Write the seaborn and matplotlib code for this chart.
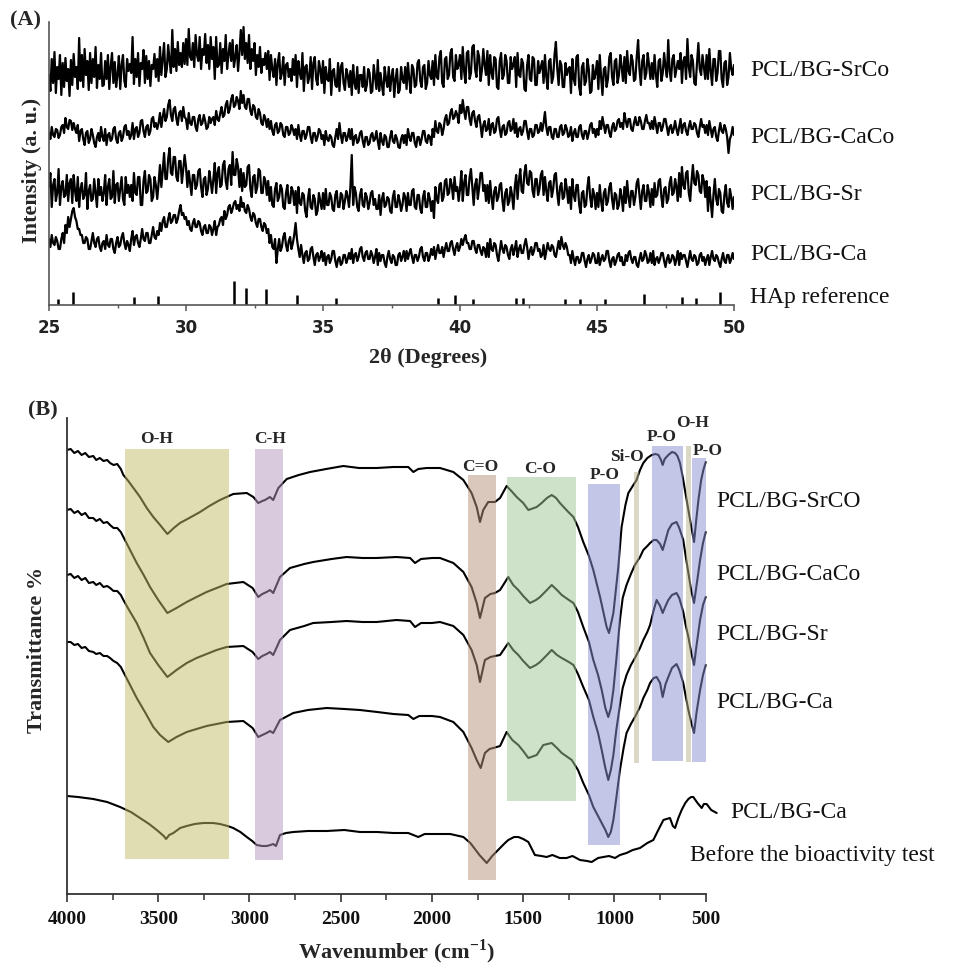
import numpy as np
import matplotlib
matplotlib.use("Agg")
import matplotlib.pyplot as plt
from matplotlib.patches import Rectangle
import seaborn as sns

# ---------------- Panel A : XRD (intensity, a.u.), 0.05 deg steps ----------------
xrd_2theta = np.linspace(25, 50, 501)

xrd_srco = [
    230,214,246,222,253,212,238,226,250,210,242,218,247,224,236,209,245,220,251,228,
    238,216,267,224,250,218,256,230,244,215,252,222,246,228,258,217,240,226,252,219,
    220,244,226,250,216,238,252,222,243,218,230,249,216,240,250,224,218,246,234,241,
    232,268,221,246,228,252,219,242,236,255,222,249,226,244,219,240,236,251,228,246,
    224,258,230,246,262,228,236,260,244,232,275,238,256,234,263,240,252,238,262,241,
    266,240,276,248,245,262,238,270,250,244,268,236,256,250,271,242,260,236,268,246,
    258,226,268,238,240,262,232,256,244,270,236,250,262,244,265,238,248,260,234,252,
    275,250,278,246,262,242,270,236,256,244,262,230,250,238,258,232,246,240,252,236,
    254,225,250,236,228,246,220,242,252,226,232,248,220,240,242,228,236,224,246,230,
    250,218,244,232,226,252,214,238,240,222,228,248,216,242,248,226,220,244,236,222,
    244,212,238,226,224,246,210,234,236,220,218,242,214,238,242,222,215,236,230,218,
    234,210,240,222,216,238,212,230,230,218,238,214,220,236,232,212,214,240,228,216,
    245,214,232,220,210,238,226,218,238,214,228,236,208,226,236,212,215,238,226,222,
    238,216,242,226,212,240,236,218,220,242,245,224,218,238,240,216,222,244,230,226,
    244,220,250,228,226,248,254,222,218,246,248,226,230,252,256,228,224,250,236,240,
    250,226,258,234,222,252,254,226,232,258,260,236,228,254,248,224,235,256,240,230,
    254,220,250,232,226,248,246,218,216,244,252,226,230,250,244,222,222,248,236,240,
    248,218,252,230,228,246,242,216,214,240,250,226,224,248,246,220,220,244,232,238,
    244,222,250,228,216,244,246,222,228,250,263,236,220,244,240,218,218,242,230,236,
    238,212,246,226,220,248,250,218,210,238,242,220,224,246,236,212,214,240,226,232,
    244,216,250,228,210,236,238,218,226,248,252,228,220,244,246,222,230,250,238,224,
    248,222,254,234,230,250,244,224,226,248,265,236,220,244,250,226,232,252,240,226,
    242,226,250,230,218,244,246,224,232,252,238,228,265,234,224,246,250,228,236,244,
    236,252,222,244,248,226,266,238,228,250,244,222,220,242,262,236,230,250,238,226,
    250,226,256,234,220,246,246,224,232,254,254,226,218,242,244,220,228,252,236,230,
    240]

xrd_caco = [
    172,166,178,170,168,176,175,167,170,178,180,172,187,178,176,185,184,175,182,176,
    172,180,164,174,176,166,160,172,174,162,166,176,170,162,158,168,172,164,178,168,
    164,176,160,170,172,164,166,176,178,166,162,172,174,164,168,178,180,170,174,166,
    170,182,166,176,178,168,172,184,185,174,168,178,180,170,174,186,188,178,182,176,
    182,192,178,188,196,184,188,200,205,190,184,196,198,186,180,192,194,184,198,188,
    186,176,192,182,180,188,188,178,174,186,190,180,182,190,184,176,178,188,182,186,
    188,180,194,186,184,192,198,188,190,200,204,192,196,206,210,198,200,208,204,196,
    214,202,210,198,196,206,206,194,190,200,198,188,186,196,192,182,180,190,186,178,
    186,176,184,174,170,180,182,172,174,182,180,170,168,178,178,170,172,180,176,170,
    176,166,180,170,164,174,174,166,170,178,178,168,162,172,172,164,168,176,174,166,
    170,160,174,166,164,170,168,160,158,168,176,166,182,170,162,172,172,164,168,176,
    166,176,160,168,170,162,164,172,174,164,158,168,168,160,162,170,172,164,166,174,
    164,156,172,164,160,170,168,158,158,168,174,164,162,170,166,158,157,166,170,162,
    170,160,176,168,164,172,172,162,158,168,168,160,166,174,174,164,162,170,168,160,
    176,168,184,174,172,182,180,170,176,186,190,180,182,192,196,186,188,194,190,182,
    200,192,205,194,186,198,198,186,180,192,194,184,178,188,190,180,168,180,184,174,
    176,186,170,180,182,172,174,186,188,176,168,178,180,170,172,182,184,174,176,186,
    172,182,168,176,178,170,174,184,184,174,166,176,176,168,170,180,180,172,174,182,
    174,182,193,178,170,178,178,168,166,176,176,168,168,178,180,170,172,180,176,168,
    170,178,164,172,176,168,168,178,180,170,166,174,174,166,172,180,182,172,176,168,
    176,170,184,176,188,180,172,180,180,172,168,178,182,174,176,184,186,178,182,176,
    192,184,178,186,186,176,174,182,188,180,180,188,184,176,176,184,190,182,182,176,
    184,176,188,180,172,182,182,174,178,186,186,178,170,178,180,172,176,184,176,170,
    178,186,172,180,182,174,170,178,184,176,176,182,180,172,168,178,186,178,180,172,
    180,170,184,176,168,176,178,168,164,174,182,174,172,180,176,168,152,166,170,178,
    170]

xrd_sr = [
    118,132,98,120,126,104,112,136,100,118,124,108,110,130,104,122,126,102,130,114,
    104,128,98,116,122,106,110,132,96,114,120,104,106,126,112,98,126,110,118,104,
    112,130,100,118,126,106,108,134,102,120,122,104,116,128,106,100,128,112,120,108,
    120,104,132,112,110,128,128,100,100,124,134,112,114,130,126,104,108,128,120,106,
    122,140,118,134,152,126,126,146,157,132,130,148,148,128,124,144,144,122,136,150,
    138,118,134,122,110,130,130,116,120,134,136,118,108,126,128,110,116,134,124,112,
    126,142,112,132,138,118,120,140,144,124,116,136,140,120,153,130,130,146,138,118,
    136,114,132,118,120,138,140,116,108,128,130,112,118,136,134,112,112,128,124,110,
    124,104,118,100,98,116,122,104,108,120,116,98,96,112,120,102,102,118,114,100,
    114,92,118,102,100,112,110,94,88,106,116,98,96,110,106,90,94,112,104,96,
    112,96,116,100,100,112,108,96,94,110,114,98,98,112,110,96,104,114,108,98,
    118,150,100,118,112,98,94,110,116,100,98,112,108,96,102,112,114,100,106,96,
    96,110,90,106,112,98,100,108,106,94,92,108,114,98,98,110,104,94,100,112,
    108,94,112,100,100,114,116,98,96,110,110,96,92,108,114,98,98,112,106,94,
    104,87,118,106,102,120,122,104,108,124,126,110,112,126,120,106,128,114,118,104,
    116,134,104,122,130,110,110,128,136,118,100,120,126,106,118,132,132,114,120,104,
    120,102,124,108,96,114,118,104,108,120,122,104,94,112,116,100,104,118,110,96,
    118,130,106,124,136,114,112,132,140,122,120,134,132,114,108,126,126,110,116,130,
    134,110,128,114,104,122,124,108,116,130,132,112,100,118,122,106,108,126,116,102,
    118,96,126,110,104,120,120,100,92,112,114,98,100,118,128,108,98,116,110,96,
    112,98,120,104,94,112,116,100,104,118,122,106,96,112,110,96,100,116,108,94,
    118,102,124,108,98,114,114,100,108,122,126,110,96,114,120,104,104,120,112,98,
    116,100,122,108,110,124,126,108,98,116,118,102,106,122,128,110,112,126,118,104,
    132,108,138,120,116,132,134,112,104,124,140,122,120,134,130,114,112,130,124,108,
    124,94,118,104,88,110,126,106,100,116,112,94,92,110,120,102,98,116,108,96,
    108]

xrd_ca = [
    66,58,70,62,60,68,64,56,56,66,72,62,80,72,88,78,86,94,97,88,
    84,76,76,70,70,62,62,68,66,56,56,64,72,62,58,66,68,58,54,62,
    64,56,70,60,58,66,66,56,52,62,68,58,60,68,72,62,56,64,60,54,
    66,74,60,68,70,62,58,66,76,66,64,72,72,62,62,70,78,68,66,74,
    70,82,74,84,88,78,78,86,92,82,84,90,90,82,86,94,100,90,92,86,
    88,80,84,76,74,82,86,78,78,84,82,74,70,78,80,72,72,80,78,70,
    76,84,70,78,80,86,88,80,94,86,90,98,100,92,96,102,104,96,100,94,
    108,98,102,94,92,100,96,88,84,92,90,82,78,86,86,78,74,82,80,72,
    76,62,70,58,56,66,42,56,66,54,58,68,72,60,54,64,68,56,62,70,
    82,66,56,48,60,50,42,52,54,44,46,56,58,48,40,50,52,44,48,54,
    44,52,40,48,50,42,46,54,54,44,38,46,48,40,42,50,50,42,46,52,
    46,56,42,50,52,44,48,56,58,48,44,52,54,46,46,54,50,42,48,56,
    40,52,44,50,50,42,38,48,54,46,42,50,48,40,40,50,52,44,48,54,
    44,54,46,52,56,48,42,50,50,44,48,56,58,48,44,52,52,44,48,56,
    50,58,46,54,60,52,52,58,48,56,62,54,54,62,64,56,50,58,62,54,
    58,66,60,66,70,62,62,56,56,64,64,56,52,60,60,54,50,58,56,48,
    62,48,66,56,54,62,60,50,44,54,64,56,52,60,58,50,46,56,60,50,
    56,64,48,56,60,52,52,60,66,58,46,54,58,50,54,62,62,54,56,48,
    50,60,46,54,62,56,54,60,58,50,48,56,64,56,68,60,56,62,58,50,
    50,42,54,46,40,48,48,42,44,52,52,44,38,46,50,42,46,52,50,42,
    42,52,40,46,50,44,46,54,54,44,38,46,48,40,44,50,52,44,48,40,
    40,50,44,52,54,46,42,48,48,40,38,46,52,44,46,54,50,42,44,52,
    42,54,40,46,48,42,46,52,52,44,38,46,50,42,44,50,48,40,46,54,
    40,52,46,50,50,44,38,46,54,46,44,50,48,40,42,50,52,44,48,40,
    46,50,40,48,54,46,44,50,48,42,38,46,52,44,42,50,50,42,46,52,
    46]

xrd_names = ["PCL/BG-SrCo", "PCL/BG-CaCo", "PCL/BG-Sr", "PCL/BG-Ca"]

hap_2theta = [25.34, 25.86, 28.11, 28.97, 31.76, 32.19, 32.91, 34.04, 35.47, 39.21,
              39.82, 40.46, 42.04, 42.31, 43.83, 44.38, 45.30, 46.73, 48.10, 48.60, 49.50]
hap_rel = [25, 54, 33, 38, 100, 71, 67, 42, 29, 29,
           42, 25, 29, 29, 27, 25, 27, 46, 33, 29, 54]

# ---------------- Panel B : FTIR (transmittance, stacked, a.u.) ----------------
wn_srco = [4000,3980,3960,3940,3920,3900,3880,3856,3840,3820,3800,3780,3764,3745,3725,3705,3691,
           3664,3636,3600,3563,3527,3490,3450,3415,3381,3330,3271,3220,3162,3089,3015,2979,2952,
           2930,2915,2888,2870,2842,2796,2730,2668,2580,2486,2400,2303,2212,2130,2102,2075,2029,
           1956,1883,1828,1783,1755,1737,1719,1692,1655,1627,1591,1560,1536,1500,1472,1426,1399,
           1370,1344,1320,1299,1253,1225,1200,1171,1140,1116,1079,1043,1030,1006,979,961,940,924,
           900,879,860,842,820,796,775,759,745,736,725,705,685,668,655,641,625,614,595,580,564,
           552,540,525,513,500]
t_srco = [444,445,441,443,439,441,437,438,434,436,433,434,431,429,430,425,419,
          413,406,397,386,377,369,360,366,371,376,382,388,394,400,401,397,391,
          393,394,397,394,406,415,419,422,425,428,426,426,427,427,422,425,426,
          426,422,414,401,387,372,384,392,392,396,408,402,397,391,384,387,391,
          396,399,396,391,382,377,367,352,338,324,297,267,261,281,327,367,389,401,
          408,414,424,431,436,439,440,439,434,429,435,439,442,441,438,431,416,404,384,368,352,
          374,394,414,424,432]

wn_caco = [4000,3980,3960,3940,3920,3900,3880,3856,3840,3820,3800,3780,3764,3745,3725,3705,3691,
           3660,3618,3580,3545,3500,3450,3400,3344,3290,3235,3180,3125,3034,2983,2952,2930,2906,
           2888,2870,2833,2778,2700,2651,2550,2468,2380,2303,2194,2120,2093,2060,2000,1956,1883,
           1828,1783,1755,1737,1710,1680,1655,1627,1582,1555,1527,1500,1463,1430,1408,1370,1344,
           1315,1289,1250,1225,1200,1171,1140,1116,1090,1070,1050,1034,1020,1006,990,970,955,934,
           910,888,860,842,820,805,785,769,750,736,720,705,685,660,645,623,610,595,580,564,550,
           531,515,500]
t_caco = [384,385,381,383,379,381,376,376,373,375,371,372,369,366,366,362,357,
          346,331,319,307,294,281,286,292,297,302,306,310,312,306,297,300,302,
          304,301,317,326,330,332,335,337,336,336,337,336,331,335,336,336,331,
          322,307,291,276,296,300,301,304,317,309,304,298,291,294,297,304,309,
          304,299,294,291,282,267,252,234,219,204,186,177,186,204,234,274,296,309,
          320,329,337,344,348,351,354,354,350,344,354,364,370,372,366,354,338,321,304,291,309,
          334,351,362]

wn_sr = wn_caco
t_sr = [319,320,316,318,314,316,311,312,309,311,307,308,306,303,303,299,294,
        284,271,256,241,229,217,224,231,236,240,244,247,248,242,235,238,240,
        242,239,254,264,268,271,272,273,272,272,274,273,267,271,271,272,268,
        259,244,229,212,234,237,238,239,251,244,239,233,226,229,232,239,244,
        239,236,232,229,220,207,194,177,161,144,126,114,124,139,164,189,206,219,
        229,236,246,254,262,269,284,294,288,281,288,294,299,301,296,282,269,257,242,229,249,
        274,289,297]

wn_ca = [4000,3980,3960,3940,3920,3900,3880,3856,3840,3820,3800,3780,3764,3745,3725,3705,3691,
         3660,3618,3570,3527,3490,3445,3400,3344,3290,3235,3180,3125,3034,2983,2952,2930,2906,
         2888,2870,2833,2760,2680,2577,2480,2395,2300,2212,2130,2102,2070,2000,1956,1883,1828,
         1783,1755,1733,1710,1685,1664,1627,1591,1560,1527,1500,1472,1426,1390,1344,1315,1289,
         1234,1200,1171,1140,1116,1070,1050,1034,1020,1006,990,970,950,934,910,888,860,842,820,
         805,785,769,750,736,720,705,685,660,645,623,610,595,580,564,550,531,515,500]
t_ca = [252,252,249,250,246,247,243,242,240,241,238,238,236,233,231,227,222,
        211,196,181,167,159,152,157,162,165,168,170,172,173,166,157,159,161,
        163,161,174,181,184,186,185,184,182,180,179,175,178,178,177,172,162,
        146,134,126,141,145,146,148,162,154,149,143,136,139,149,151,146,141,
        134,124,111,99,87,71,64,57,62,74,96,124,146,161,170,177,187,196,204,
        211,216,217,211,197,210,217,226,230,224,211,198,184,172,161,182,204,219,229]

wn_before = [4020,4000,3940,3856,3780,3709,3650,3600,3550,3508,3470,3457,3440,3417,3380,3344,
             3300,3253,3200,3162,3120,3089,3050,3015,2985,2961,2930,2906,2885,2870,2855,2833,
             2800,2760,2680,2577,2480,2395,2300,2212,2130,2075,2040,1956,1900,1828,1790,1773,
             1740,1700,1670,1627,1600,1582,1550,1527,1500,1472,1450,1436,1400,1372,1340,1300,
             1262,1230,1189,1150,1125,1090,1061,1030,997,970,934,900,860,820,787,760,732,715,
             696,680,668,650,632,612,595,580,568,545,522,510,495,470,440]
t_before = [99,98,97,95,92,87,82,76,70,64,58,55,59,61,66,68,
            70,71,71,70,68,66,62,57,53,49,48,48,49,50,48,59,
            61,62,63,63,64,62,62,61,61,57,60,60,60,57,51,47,
            39,31,38,46,51,54,57,57,55,52,44,39,38,37,39,36,
            36,38,34,33,32,36,37,38,36,39,41,44,46,51,54,64,74,75,
            76,68,66,76,84,91,95,97,97,91,86,90,90,84,81]

ftir_names = ["PCL/BG-SrCO", "PCL/BG-CaCo", "PCL/BG-Sr", "PCL/BG-Ca", "PCL/BG-Ca"]

band_names = ["O-H", "C-H", "C=O", "C-O", "P-O", "Si-O", "P-O", "O-H", "P-O"]
band_hi_wn = [3682, 2970, 1805, 1591, 1143, 891, 795, 610, 574]
band_lo_wn = [3111, 2818, 1649, 1213, 968, 864, 627, 582, 499]
band_bottom = [35, 34, 14, 93, 49, 131, 133, 132, 132]
band_top = [445, 445, 419, 417, 410, 422, 448, 448, 436]
band_colors = ["#c1bd65", "#b597bf", "#b9937b", "#9fc797", "#898fd1",
               "#b9b38d", "#898fd1", "#b9b38d", "#898fd1"]

# ---------------- drawing ----------------
sns.set_theme(style="white")
plt.rcParams['font.family'] = ['Liberation Serif', 'DejaVu Serif']
plt.rcParams['mathtext.fontset'] = 'custom'
plt.rcParams['mathtext.rm'] = 'Liberation Serif'
plt.rcParams['mathtext.bf'] = 'Liberation Serif:bold'

W, H = 957, 966
fig = plt.figure(figsize=(W / 100, H / 100), dpi=100)
fig.patch.set_facecolor("white")


def fx(px):
    return px / W


def fy(py):
    return 1 - py / H


# Panel A
axA = fig.add_axes([fx(49), fy(305), fx(734) - fx(49), fy(22) - fy(305)])
for vals in [xrd_srco, xrd_caco, xrd_sr, xrd_ca]:
    sns.lineplot(x=xrd_2theta, y=vals, ax=axA, color="black", linewidth=1.6,
                 estimator=None, sort=False, legend=False)
axA.vlines(hap_2theta, 0, np.array(hap_rel) * 0.24, color="black", linewidth=1.8)
axA.set_xlim(25, 50)
axA.set_ylim(0, 283)
axA.set_facecolor("white")
for s in ["top", "right"]:
    axA.spines[s].set_visible(False)
for s in ["left", "bottom"]:
    axA.spines[s].set_color("#555555")
    axA.spines[s].set_linewidth(1.2)
axA.set_yticks([])
axA.set_xticks([25, 30, 35, 40, 45, 50])
axA.set_xticks([27.5, 32.5, 37.5, 42.5, 47.5], minor=True)
axA.tick_params(axis="x", which="major", direction="out", length=4, width=1.1,
                color="#555555", bottom=True, pad=6)
axA.tick_params(axis="x", which="minor", direction="out", length=2.5, width=1.0,
                color="#555555", bottom=True)
for lab in axA.get_xticklabels():
    lab.set_fontfamily("DejaVu Sans")
    lab.set_fontweight("bold")
    lab.set_fontsize(12)
    lab.set_color("#222222")
axA.set_xlabel("")
axA.set_ylabel("")

fig.text(fx(10), fy(20), "(A)", fontsize=16, fontweight="bold", ha="left", va="center")
fig.text(fx(428), fy(358), "2θ (Degrees)", fontsize=16, fontweight="bold",
         ha="center", va="center")
fig.text(fx(32), fy(170), "Intensity (a. u.)", fontsize=16, fontweight="bold",
         rotation=90, ha="center", va="center")
for name, py in zip(xrd_names + ["HAp reference"], [70, 138, 195, 255, 298]):
    fig.text(fx(750), fy(py), name, fontsize=17, ha="left", va="center", color="#111111")

# Panel B
axB = fig.add_axes([fx(67), fy(894), fx(718.5) - fx(67), fy(418) - fy(894)])
for wn, tv in [(wn_srco, t_srco), (wn_caco, t_caco), (wn_sr, t_sr), (wn_ca, t_ca),
               (wn_before, t_before)]:
    sns.lineplot(x=wn, y=tv, ax=axB, color="black", linewidth=1.5,
                 estimator=None, sort=False, legend=False, zorder=2)
for hi, lo, b, t, c in zip(band_hi_wn, band_lo_wn, band_bottom, band_top, band_colors):
    axB.add_patch(Rectangle((lo, b), hi - lo, t - b, facecolor=c, edgecolor="none",
                            alpha=0.5, zorder=3))

band_label_pos = [(3507, 455), (2888, 455), (1737, 427), (1408, 425), (1052, 419),
                  (932, 437), (740, 457), (570, 471), (488, 443)]
for name, (xw, yt) in zip(band_names, band_label_pos):
    axB.text(xw, yt, name, fontsize=12.5, fontweight="bold", ha="center", va="center",
             zorder=5, clip_on=False)

axB.set_xlim(4000, 430)
axB.set_ylim(0, 476)
axB.set_facecolor("white")
for s in ["top", "right"]:
    axB.spines[s].set_visible(False)
for s in ["left", "bottom"]:
    axB.spines[s].set_color("#333333")
    axB.spines[s].set_linewidth(1.3)
axB.spines["bottom"].set_bounds(500, 4000)
axB.set_yticks([])
axB.set_xticks([4000, 3500, 3000, 2500, 2000, 1500, 1000, 500])
axB.set_xticks([3750, 3250, 2750, 2250, 1750, 1250, 750], minor=True)
axB.tick_params(axis="x", which="major", direction="out", length=6, width=1.2,
                color="#333333", bottom=True, pad=6)
axB.tick_params(axis="x", which="minor", direction="out", length=4, width=1.1,
                color="#333333", bottom=True)
for lab in axB.get_xticklabels():
    lab.set_fontweight("bold")
    lab.set_fontsize(14)
    lab.set_color("#111111")
axB.set_xlabel("")
axB.set_ylabel("")

fig.text(fx(28), fy(410), "(B)", fontsize=16, fontweight="bold", ha="left", va="center")
fig.text(fx(397), fy(952), r"Wavenumber (cm$^{\mathbf{-1}}$)", fontsize=16,
         fontweight="bold", ha="center", va="center")
fig.text(fx(37), fy(650), "Transmittance %", fontsize=16, fontweight="bold",
         rotation=90, ha="center", va="center")
for name, (px, py) in zip(ftir_names, [(716, 502), (716, 575), (716, 634), (716, 702),
                                       (730, 813)]):
    fig.text(fx(px), fy(py), name, fontsize=17, ha="left", va="center", color="#111111")
fig.text(fx(690), fy(855), "Before the bioactivity test", fontsize=17, ha="left",
         va="center", color="#111111")

fig.savefig("out.png", dpi=100, facecolor="white")
